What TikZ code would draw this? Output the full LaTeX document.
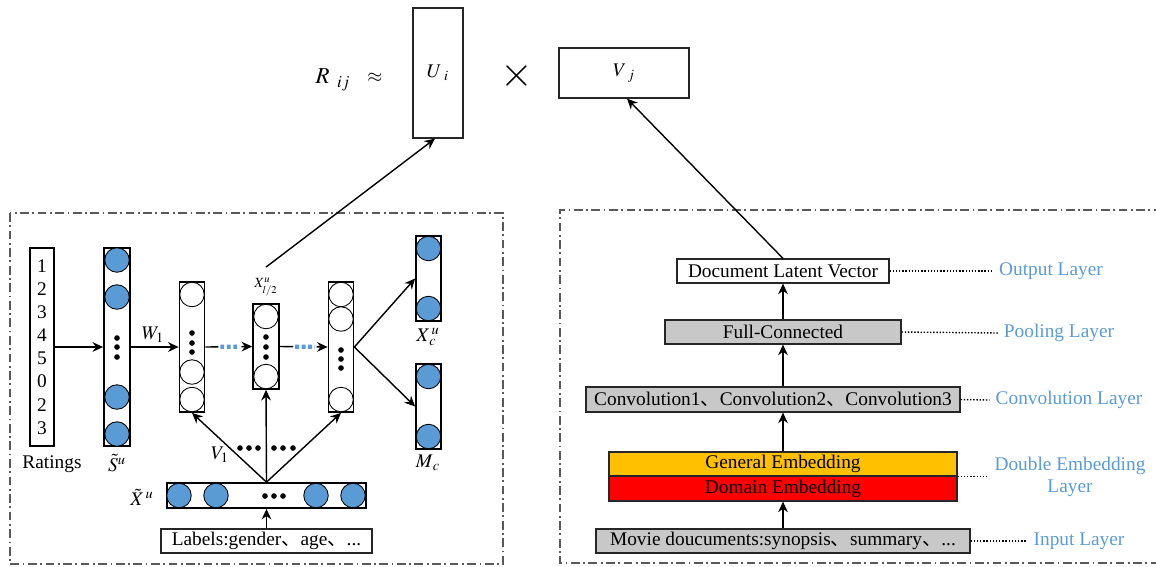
\documentclass[tikz,border=0pt]{standalone}
\usepackage{mathptmx}
\usepackage{fontspec}
\setmainfont{Liberation Serif}
\newfontfamily\cjk{Noto Sans CJK SC}
\usetikzlibrary{arrows.meta,shapes,positioning,calc}
\definecolor{nodeblue}{HTML}{5B9BD5}
\definecolor{boxgray}{HTML}{C8C8C8}
\definecolor{embyellow}{HTML}{FFC000}
\definecolor{embred}{HTML}{FF0000}
\definecolor{framegray}{HTML}{595959}
\newcommand{\dun}{{\cjk 、}}

\begin{document}
\begin{tikzpicture}[x=0.02cm,y=-0.02cm,>={Stealth[length=6pt,width=5.5pt]},
                    font=\fontsize{11}{12.5}\selectfont]

  \tikzstyle{column}=[draw,line width=1pt,minimum width=0.5cm,inner sep=0pt]
  \tikzstyle{unit}=[circle,draw,line width=0.5pt,fill=nodeblue,
                    minimum size=0.49cm,inner sep=0pt]
  \tikzstyle{hidden unit}=[unit,fill=white]
  \tikzstyle{dot}=[circle,fill=black,minimum size=3.2pt,inner sep=0pt]
  \tikzstyle{layer}=[draw=black!85,line width=0.7pt,minimum height=0.48cm,inner sep=0pt]
  \tikzstyle{layer name}=[text=nodeblue,align=center]
  \tikzstyle{frame}=[framegray,line width=0.7pt,dash pattern=on 5pt off 2pt on 1pt off 2pt]
  \tikzstyle{flow}=[->,line width=0.8pt]
  \tikzstyle{blue dots}=[nodeblue,line width=2.4pt,dash pattern=on 2.2pt off 1.5pt]
  \tikzstyle{guide}=[densely dotted,line width=0.8pt]

  \useasboundingbox (0,0) rectangle (1156,566);

  % frames
  \draw[frame] (10,213) rectangle (503,564);
  \draw[frame] (1180,210) -- (560,210) -- (560,563) -- (1180,563);

  % R ~ U x V
  \node (rij)    at (333,80) {\fontsize{13}{15}\selectfont$R_{\ \,ij}$};
  \node (approx) at (375,78) {$\approx$};
  \node[layer,minimum width=1cm,minimum height=2.6cm] (ui) at (438,73) {$U_{\ i}$};
  \node (times)  at (517,76) {\fontsize{24}{24}\selectfont$\times$};
  \node[layer,minimum width=2.6cm,minimum height=1cm] (vj) at (624,73) {$V_{\ j}$};

  % user side
  \node[column,minimum width=0.48cm,minimum height=3.96cm] (ratings) at (42,347) {};
  \foreach \r [count=\i from 0] in {1,2,3,4,5,0,2,3}
    \node (r\i) at (42,266+23.1*\i) {\r};
  \node (ratlabel) at (52,464) {Ratings};

  \node[column,minimum width=0.52cm,minimum height=3.96cm] (su) at (117,347) {};
  \foreach \y [count=\i] in {260,297,397,434}
    \node[unit] (su\i) at (117,\y) {};
  \foreach \y [count=\i] in {338,347,357}
    \node[dot] (sudot\i) at (117,\y) {};
  \node[inner sep=1pt] (sulabel) at (117,463) {$\tilde{S}^u$};

  \node[column,minimum height=2.6cm] (ha) at (192,347) {};
  \foreach \y [count=\i] in {294.5,372,399.5}
    \node[hidden unit] (ha\i) at (192,\y) {};
  \foreach \y [count=\i] in {333,343,352}
    \node[dot] (hadot\i) at (192,\y) {};

  \node[column,minimum width=0.52cm,minimum height=1.7cm] (hb) at (266,346.5) {};
  \foreach \y [count=\i] in {316.5,376.5}
    \node[hidden unit] (hb\i) at (266,\y) {};
  \foreach \y [count=\i] in {337,347,357}
    \node[dot] (hbdot\i) at (266,\y) {};
  \node (xmlabel) at (266,287) {\fontsize{8}{9}\selectfont$X^u_{l/2}$};

  \node[column,minimum height=2.6cm] (hc) at (341,347) {};
  \foreach \y [count=\i] in {294.5,319,399.5}
    \node[hidden unit] (hc\i) at (341,\y) {};
  \foreach \y [count=\i] in {350,359,368}
    \node[dot] (hcdot\i) at (341,\y) {};

  \node[column,minimum height=1.7cm] (xc) at (428.5,278.5) {};
  \node[unit] (xc1) at (428.5,248.5) {};
  \node[unit] (xc2) at (428.5,308.5) {};
  \node[inner sep=1pt] (xclabel) at (428,337) {$X^{\,u}_{\,c}$};

  \node[column,minimum height=1.7cm] (mc) at (428.5,406.5) {};
  \node[unit] (mc1) at (428.5,376.5) {};
  \node[unit] (mc2) at (428.5,436.5) {};
  \node (mclabel) at (428,463) {$M_{\,c}$};

  \node[column,minimum width=3.98cm,minimum height=0.5cm] (xt) at (266.5,495.5) {};
  \foreach \x [count=\i] in {179,216,316,353}
    \node[unit] (xt\i) at (\x,495.5) {};
  \foreach \x [count=\i] in {265,274,283}
    \node[dot] (xtdot\i) at (\x,496) {};
  \node[inner sep=1pt] (xtlabel) at (142,497) {$\tilde{X}^{\,u}$};

  \node[layer,minimum width=4.22cm] (labels) at (266.5,541)
    {Labels:gender\dun age\dun ...};

  \node (w1) at (153,335) {$W_1$};
  \node (v1) at (220,455) {$V_1$};
  \foreach \x [count=\i] in {240,249,258,274,283,293}
    \node[dot] (vdot\i) at (\x,448) {};

  \draw[flow] (ratings.east) -- (su.west);
  \draw[flow] (su.east) -- (ha.west);
  \draw[line width=0.8pt] (ha.east) -- ($(ha.east)!0.28!(hb.west)$);
  \draw[blue dots] ($(ha.east)!0.32!(hb.west)$) -- ($(ha.east)!0.74!(hb.west)$);
  \draw[flow] ($(ha.east)!0.77!(hb.west)$) -- (hb.west);
  \draw[line width=0.8pt] (hb.east) -- ($(hb.east)!0.28!(hc.west)$);
  \draw[blue dots] ($(hb.east)!0.32!(hc.west)$) -- ($(hb.east)!0.74!(hc.west)$);
  \draw[flow] ($(hb.east)!0.77!(hc.west)$) -- (hc.west);
  \draw[flow] (hc.east) -- (xc.west);
  \draw[flow] (hc.east) -- (mc.west);
  \draw[flow] (xt.north) -- (ha.south);
  \draw[flow] (xt.north) -- (hb.south);
  \draw[flow] (xt.north) -- (hc.south);
  \draw[flow] (labels.north) -- (xt.south);
  \draw[flow] ([yshift=0.1cm]xmlabel.north) -- ([xshift=-0.06cm]ui.south);

  % item side
  \node[layer,fill=white,minimum width=4.24cm] (doc) at (783,271) {Document Latent Vector};
  \node[layer,fill=boxgray,minimum width=4.72cm] (fc) at (783,332) {Full-Connected};
  \node[layer,fill=boxgray,minimum width=7.48cm,minimum height=0.5cm] (conv) at (773,399.5)
    {Convolution1\dun Convolution2\dun Convolution3};
  \node[layer,fill=embyellow,minimum width=6.96cm] (gen) at (783,464) {General Embedding};
  \node[layer,fill=embred,minimum width=6.96cm,minimum height=0.5cm] (dom) at (783,488.5)
    {Domain Embedding};
  \node[layer,fill=boxgray,minimum width=7.48cm] (movie) at (783,541)
    {Movie doucuments:synopsis\dun summary\dun ...};

  \node[layer name] (outlayer)  at (1051,271) {Output Layer};
  \node[layer name] (poollayer) at (1059,333) {Pooling Layer};
  \node[layer name] (convlayer) at (1069,400) {Convolution Layer};
  \node[layer name] (dbllayer)  at (1070,477) {Double Embedding\\Layer};
  \node[layer name] (inlayer)   at (1079,541) {Input Layer};

  \draw[guide] (doc.east) -- (outlayer.west);
  \draw[guide] (fc.east) -- (poollayer.west);
  \draw[guide] (conv.east) -- (convlayer.west);
  \draw[guide] (gen.south east) -- (gen.south east -| dbllayer.west);
  \draw[guide] (movie.east) -- (inlayer.west);

  \draw[flow] (movie.north) -- (dom.south);
  \draw[flow] (gen.north) -- (gen.north |- conv.south);
  \draw[flow] (fc.south |- conv.north) -- (fc.south);
  \draw[flow] (fc.north) -- (doc.south);
  \draw[flow] (doc.north) -- ([xshift=0.06cm]vj.south);
\end{tikzpicture}
\end{document}
